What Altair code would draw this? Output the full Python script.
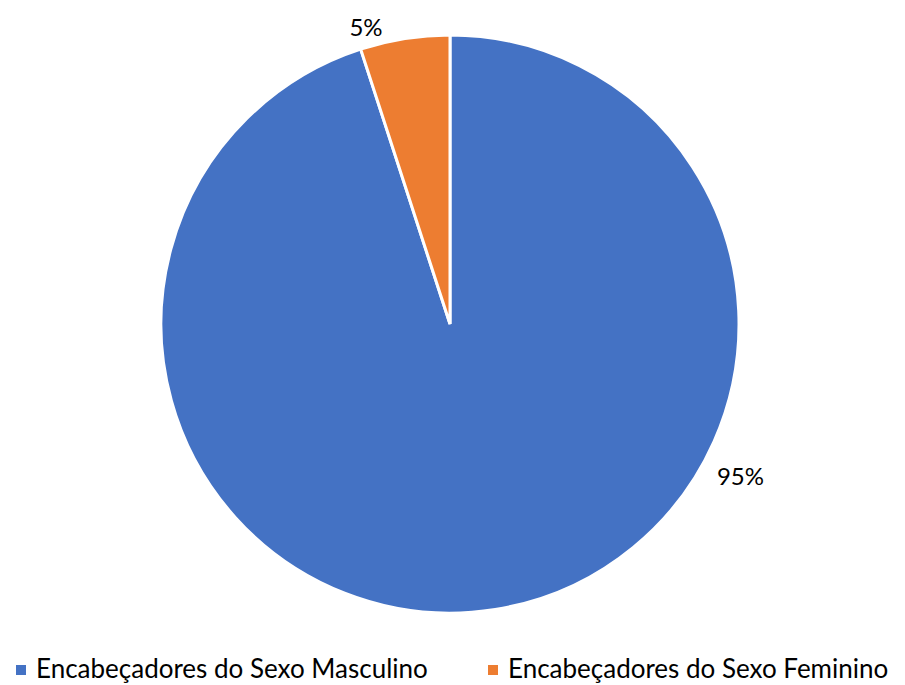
import altair as alt
import pandas as pd

categories = ["Encabeçadores do Sexo Masculino", "Encabeçadores do Sexo Feminino"]
values = [95, 5]
labels = ["95%", "5%"]
colors = ["#4472C4", "#ED7D31"]

df = pd.DataFrame({"cat": categories, "val": values, "label": labels, "order": [0, 1]})

base = alt.Chart(df).encode(
    theta=alt.Theta("val:Q", stack=True),
    order=alt.Order("order:Q"),
)

pie = base.mark_arc(outerRadius=289, stroke="white", strokeWidth=3).encode(
    color=alt.Color(
        "cat:N",
        scale=alt.Scale(domain=categories, range=colors),
        sort=categories,
        legend=alt.Legend(
            title=None,
            orient="none",
            legendX=0,
            legendY=649,
            padding=0,
            direction="horizontal",
            columns=2,
            columnPadding=52,
            symbolType="square",
            symbolSize=100,
            labelOffset=2,
            labelFont="Lato",
            labelFontSize=26,
            labelLimit=0,
            labelColor="#000000",
            symbolStrokeWidth=0,
        ),
    )
)

t95 = base.mark_text(
    radius=329, thetaOffset=-0.925, font="Lato", fontSize=24, color="#000000"
).encode(text=alt.condition(alt.datum.label == "95%", "label:N", alt.value("")))

t5 = base.mark_text(
    radius=307, thetaOffset=-0.12, font="Lato", fontSize=24, color="#000000"
).encode(text=alt.condition(alt.datum.label == "5%", "label:N", alt.value("")))

chart = (pie + t95 + t5).properties(width=884, height=632, padding=0).configure_view(stroke=None)

chart.save("out.html", embed_options={"renderer": "svg", "actions": False})
